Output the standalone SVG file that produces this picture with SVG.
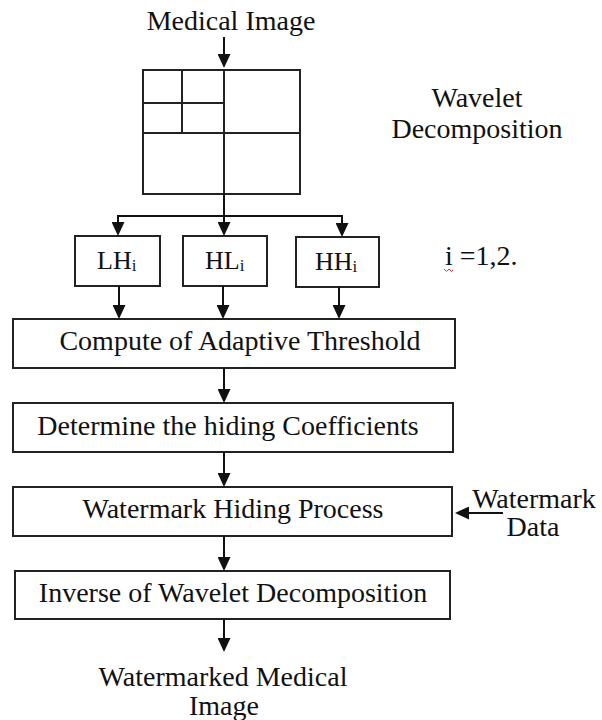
<svg xmlns="http://www.w3.org/2000/svg" width="602" height="720" viewBox="0 0 602 720">
  <defs>
    <style>
      .box { fill: #ffffff; stroke: #222222; stroke-width: 2; }
      .grid { fill: none; stroke: #222222; stroke-width: 2; }
      .wire { fill: none; stroke: #111111; stroke-width: 2; }
      text { font-family: 'Liberation Serif', 'DejaVu Serif', serif; font-size: 28px; fill: #111111; }
      .mid { text-anchor: middle; }
      .sub { font-size: 17px; }
      .band { font-size: 26px; }
    </style>
    <!-- arrowhead: tip sits 10 units past the end of the line -->
    <marker id="arrow" viewBox="0 0 14 13" refX="4" refY="6.5" markerWidth="14" markerHeight="13" markerUnits="userSpaceOnUse" orient="auto">
      <path d="M0,0 L14,6.5 L0,13 Z" fill="#111111"/>
    </marker>
  </defs>

  <rect width="602" height="720" fill="#ffffff"/>

  <g font-family="'Liberation Serif', 'DejaVu Serif', serif">
  <!-- input label -->
  <g id="medical-image">
    <text class="mid" x="231" y="30">Medical Image</text>
  </g>

  <!-- two-level wavelet subband layout -->
  <g id="wavelet-grid">
    <rect class="grid" x="143" y="70" width="157" height="124"/>
    <line class="grid" x1="224" y1="70" x2="224" y2="194"/>
    <line class="grid" x1="143" y1="133" x2="300" y2="133"/>
    <line class="grid" x1="182" y1="70" x2="182" y2="133"/>
    <line class="grid" x1="143" y1="103" x2="224" y2="103"/>
  </g>

  <g id="wavelet-label">
    <text class="mid" x="477" y="107">Wavelet</text>
    <text class="mid" x="477" y="138">Decomposition</text>
  </g>

  <!-- detail subbands -->
  <g id="lh">
    <rect class="box" x="75" y="236" width="85" height="50"/>
    <text class="band" x="97" y="269">LH<tspan class="sub" dy="2">i</tspan></text>
  </g>
  <g id="hl">
    <rect class="box" x="183" y="236" width="84" height="50"/>
    <text class="band" x="205" y="269">HL<tspan class="sub" dy="2">i</tspan></text>
  </g>
  <g id="hh">
    <rect class="box" x="296" y="237" width="83" height="50"/>
    <text class="band" x="315" y="270">HH<tspan class="sub" dy="2">i</tspan></text>
  </g>

  <g id="level-note">
    <text x="445" y="265">i =1,2.</text>
    <path d="M444,269 L446.5,271.5 L449,269 L451.5,271.5 L453,270" fill="none" stroke="#e03030" stroke-width="1"/>
  </g>

  <!-- processing stages -->
  <g id="threshold">
    <rect class="box" x="13" y="319" width="442" height="49"/>
    <text class="mid" x="240" y="350">Compute of Adaptive Threshold</text>
  </g>
  <g id="coefficients">
    <rect class="box" x="13" y="403" width="440" height="49"/>
    <text class="mid" x="228" y="435">Determine the hiding Coefficients</text>
  </g>
  <g id="hiding">
    <rect class="box" x="13" y="487" width="439" height="49"/>
    <text class="mid" x="233" y="518">Watermark Hiding Process</text>
  </g>
  <g id="inverse">
    <rect class="box" x="15" y="571" width="435" height="48"/>
    <text class="mid" x="233" y="602">Inverse of Wavelet Decomposition</text>
  </g>

  <g id="watermark-data">
    <text class="mid" x="534" y="508">Watermark</text>
    <text class="mid" x="533" y="536">Data</text>
  </g>

  <g id="output">
    <text class="mid" x="223" y="686">Watermarked Medical</text>
    <text class="mid" x="224" y="715">Image</text>
  </g>
  </g>

  <!-- connectors -->
  <g id="connectors">
    <line class="wire" x1="224" y1="37" x2="224" y2="58" marker-end="url(#arrow)"/>
    <line class="wire" x1="224" y1="194" x2="224" y2="216"/>
    <line class="wire" x1="117" y1="216" x2="343" y2="216"/>
    <line class="wire" x1="118" y1="215" x2="118" y2="226" marker-end="url(#arrow)"/>
    <line class="wire" x1="224" y1="215" x2="224" y2="226" marker-end="url(#arrow)"/>
    <line class="wire" x1="342" y1="215" x2="342" y2="227" marker-end="url(#arrow)"/>
    <line class="wire" x1="119" y1="286" x2="119" y2="309" marker-end="url(#arrow)"/>
    <line class="wire" x1="223" y1="286" x2="223" y2="309" marker-end="url(#arrow)"/>
    <line class="wire" x1="339" y1="287" x2="339" y2="309" marker-end="url(#arrow)"/>
    <line class="wire" x1="224" y1="368" x2="224" y2="393" marker-end="url(#arrow)"/>
    <line class="wire" x1="224" y1="452" x2="224" y2="477" marker-end="url(#arrow)"/>
    <line class="wire" x1="224" y1="536" x2="224" y2="561" marker-end="url(#arrow)"/>
    <line class="wire" x1="224" y1="619" x2="224" y2="642" marker-end="url(#arrow)"/>
    <line class="wire" x1="503" y1="513" x2="465" y2="513" marker-end="url(#arrow)"/>
  </g>
</svg>
